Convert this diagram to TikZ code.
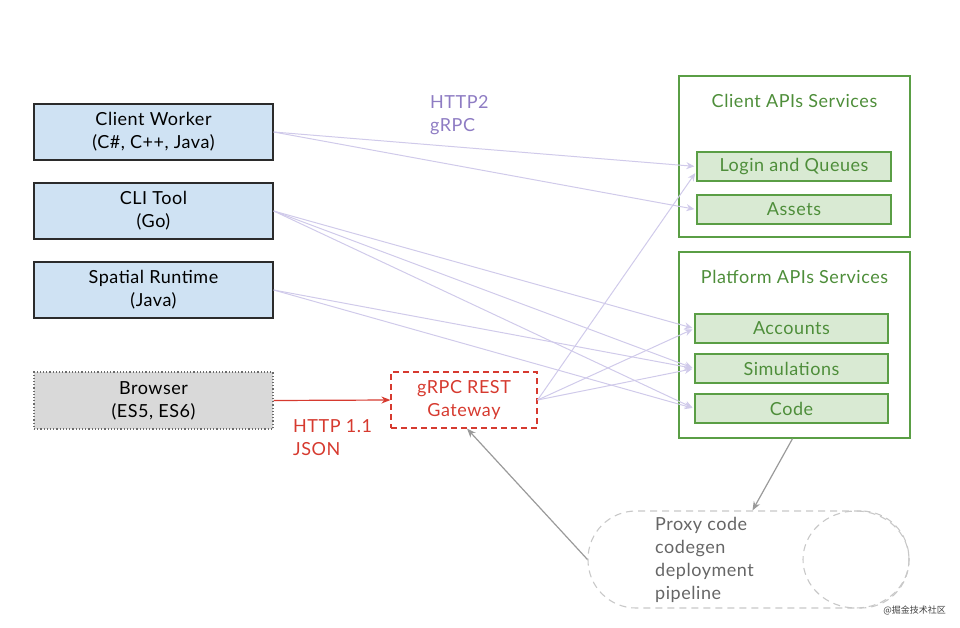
\documentclass[tikz,border=0pt]{standalone}
\usepackage{fontspec}
\setmainfont[LetterSpace=3]{Lato}
\newfontfamily\cjkfont{Noto Sans CJK SC}
\usetikzlibrary{arrows.meta,shapes.geometric}
\definecolor{bluefill}{HTML}{CFE2F3}
\definecolor{darkborder}{HTML}{2B2B2B}
\definecolor{grayfill}{HTML}{D9D9D9}
\definecolor{redc}{HTML}{D63A2F}
\definecolor{purplec}{HTML}{8E7CC3}
\definecolor{lavender}{HTML}{D0CAEA}
\definecolor{greenb}{HTML}{5A9E45}
\definecolor{greent}{HTML}{4E8E3A}
\definecolor{greenfill}{HTML}{D9EAD3}
\definecolor{grayarrow}{HTML}{9A9A9A}
\definecolor{pipegray}{HTML}{C8C8C8}
\definecolor{pipetext}{HTML}{666666}
\tikzset{
  txt/.style={font=\fontsize{18}{23}\selectfont, align=center, inner sep=0pt},
  client/.style={txt, draw=darkborder, line width=1.3pt, fill=bluefill, minimum width=239pt, minimum height=56pt},
  browserbox/.style={txt, draw=darkborder!70, dotted, line width=1.2pt, fill=grayfill, minimum width=239pt, minimum height=57pt},
  gatebox/.style={txt, draw=redc, dash pattern=on 6pt off 4pt, line width=1.2pt, text=redc, minimum width=146pt, minimum height=56pt},
  group/.style={draw=greenb, line width=1.3pt, minimum width=231pt, inner sep=0pt},
  service/.style={txt, draw=greenb, line width=1.3pt, fill=greenfill, text=greent, minimum height=29pt},
  lav/.style={draw=lavender, line width=1pt, -{Stealth[length=8pt,width=7pt]}, shorten >=2pt},
  grayarr/.style={draw=grayarrow, line width=1.2pt, -{Stealth[length=9pt,width=7pt]}},
  pipeline/.style={draw=pipegray, dash pattern=on 7pt off 5pt, line width=1.1pt, inner sep=0pt},
}
\begin{document}
\begin{tikzpicture}[x=1pt, y=-1pt]
\useasboundingbox (0,0) rectangle (960,628);
% clients
\node[client] (cw) at (153.5,132) {Client Worker\\(C\#, C++, Java)};
\node[client] (cli) at (153.5,211) {CLI Tool\\(Go)};
\node[client] (sr) at (153.5,290) {Spatial Runtime\\(Java)};
\node[browserbox] (br) at (153.5,400.5) {Browser\\(ES5, ES6)};
\node[gatebox] (gw) at (464,400) {gRPC REST\\Gateway};
% service groups
\node[group, minimum height=161pt] (cas) at (794.5,156.5) {};
\node[txt, text=greent] (castitle) at (794.5,101) {Client APIs Services};
\node[service, minimum width=194pt] (login) at (794,166.5) {Login and Queues};
\node[service, minimum width=194pt] (assets) at (794,209.5) {Assets};
\node[group, minimum height=186pt] (pas) at (794.5,345) {};
\node[txt, text=greent] (pastitle) at (794.5,277) {Platform APIs Services};
\node[service, minimum width=193pt] (acc) at (791.5,328.5) {Accounts};
\node[service, minimum width=193pt] (sim) at (791.5,368.5) {Simulations};
\node[service, minimum width=193pt] (code) at (791.5,408.5) {Code};
% pipeline
\node[pipeline, rounded corners=48pt, minimum width=321pt, minimum height=97pt] (pipe) at (748.5,559.5) {};
\node[pipeline, ellipse, minimum width=106pt, minimum height=97pt] (pipecirc) at (856,559.5) {};
\node[txt, align=left, anchor=west, text=pipetext] (pipetxt) at (655,560) {Proxy code\\codegen\\deployment\\pipeline};
% labels
\node[txt, align=left, anchor=west, text=purplec] (h2) at (430,115.5) {HTTP2\\gRPC};
\node[txt, align=left, anchor=west, text=redc] (h1) at (293,437.5) {HTTP 1.1\\JSON};
\node[font=\cjkfont\fontsize{9}{10}\selectfont, text=black!75, anchor=east, inner sep=0pt] (wm) at (946,610) {@掘金技术社区};
% lavender connectors
\draw[lav] (cw.east) -- (login.west);
\draw[lav] (cw.east) -- (assets.west);
\draw[lav] (cli.east) -- (acc.west);
\draw[lav] (cli.east) -- (sim.west);
\draw[lav] (cli.east) -- (code.west);
\draw[lav] (sr.east) -- (sim.west);
\draw[lav] (sr.east) -- (code.west);
\draw[lav] (gw.east) -- ([yshift=-5pt]login.west);
\draw[lav] (gw.east) -- (acc.west);
\draw[lav] (gw.east) -- (sim.west);
% red connector
\draw[draw=redc, line width=1.2pt, -{Stealth[length=9pt,width=7pt]}] (br.east) -- (gw.west);
% gray connectors
\coordinate (pasout) at ([xshift=-2pt]pas.south);
\draw[grayarr] (pasout) -- ([xshift=4pt]pipe.north);
\draw[grayarr] (pipe.west) -- ([xshift=3pt]gw.south);
\end{tikzpicture}
\end{document}
